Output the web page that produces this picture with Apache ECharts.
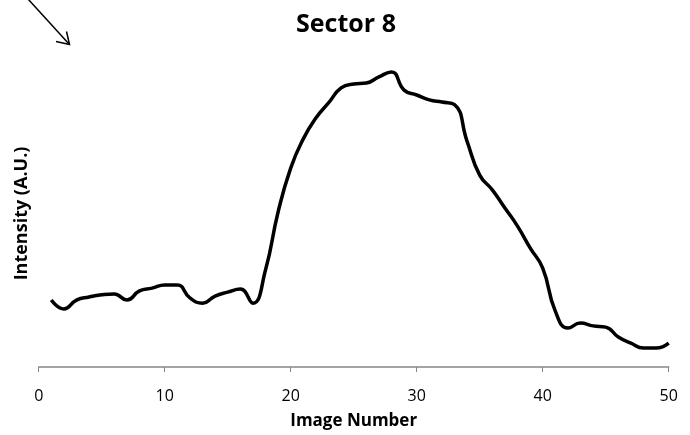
<!DOCTYPE html>
<html>
<head>
<meta charset="utf-8">
<script src="https://cdn.jsdelivr.net/npm/echarts@6/dist/echarts.min.js"></script>
<style>
  html, body { margin: 0; padding: 0; background: #fff; }
  #chart { width: 690px; height: 435px; }
</style>
</head>
<body>
<div id="chart"></div>
<script>
// Image numbers along the sequence
const imageNumbers = [1, 2, 3, 4, 5, 6, 7, 8, 9, 10,
  11, 12, 13, 14, 15, 16, 17, 18, 19, 20,
  21, 22, 23, 24, 25, 26, 27, 28, 29, 30,
  31, 32, 33, 34, 35, 36, 37, 38, 39, 40,
  41, 42, 43, 44, 45, 46, 47, 48, 49, 50];

// Mean intensity in sector 8 (arbitrary units)
const intensity = [21.8, 18.9, 21.8, 22.8, 23.5, 23.8, 21.8, 24.8, 25.7, 26.7,
  26.7, 22.5, 20.8, 23.1, 24.4, 25.4, 20.8, 31.6, 50.5, 64.8,
  74.3, 81.1, 86.0, 90.9, 92.2, 92.5, 94.5, 96.1, 90.2, 88.6,
  87.0, 86.3, 85.5, 73.5, 62.5, 57.7, 51.8, 45.9, 38.8, 32.2,
  18.2, 12.7, 14.3, 13.4, 13.0, 9.8, 7.8, 6.2, 6.2, 7.8];

// X axis tick labels
const xTicks = [0, 10, 20, 30, 40, 50];

const FONT = '"Open Sans", "Liberation Sans", sans-serif';

const chart = echarts.init(document.getElementById('chart'), null, { renderer: 'canvas' });

chart.setOption({
  animation: false,
  backgroundColor: '#ffffff',
  title: {
    text: 'Sector 8',
    left: 341,
    textAlign: 'center',
    top: 7,
    textStyle: { fontFamily: FONT, fontSize: 25, fontWeight: 'bold', color: '#000' }
  },
  grid: {
    left: 38.7, right: 21.3, top: 60, bottom: 68,
    containLabel: false,
    outerBoundsMode: 'none'
  },
  xAxis: {
    type: 'value',
    min: 0,
    max: 50,
    interval: 10,
    name: 'Image Number',
    nameLocation: 'middle',
    nameGap: 46,
    nameTextStyle: { fontFamily: FONT, fontSize: 17, fontWeight: 'bold', color: '#000' },
    axisLine: { show: true, lineStyle: { color: '#868686', width: 1.5 } },
    axisTick: { show: true, inside: false, length: 5, lineStyle: { color: '#868686', width: 1 } },
    axisLabel: {
      margin: 21,
      fontFamily: FONT, fontSize: 16, color: '#000',
      formatter: function (v) { return xTicks.indexOf(v) >= 0 ? String(v) : ''; }
    },
    splitLine: { show: false }
  },
  yAxis: {
    type: 'value',
    min: 0,
    max: 100,
    name: 'Intensity (A.U.)',
    nameLocation: 'middle',
    nameGap: 8,
    nameRotate: 90,
    nameTextStyle: { fontFamily: FONT, fontSize: 18, fontWeight: 'bold', color: '#000' },
    axisLine: { show: false },
    axisTick: { show: false },
    axisLabel: { show: false },
    splitLine: { show: false }
  },
  series: [{
    type: 'line',
    data: imageNumbers.map(function (n, i) { return [n, intensity[i]]; }),
    smooth: 0.5,
    showSymbol: false,
    lineStyle: { color: '#000', width: 3.5 },
    clip: false
  }],
  graphic: [
    {
      type: 'line',
      shape: { x1: 28, y1: -1, x2: 69, y2: 44 },
      style: { stroke: '#000', lineWidth: 1.5 }
    },
    {
      type: 'polyline',
      shape: { points: [[56, 41.5], [69.5, 44.5], [66.5, 31.5]] },
      style: { stroke: '#000', lineWidth: 1.5, fill: null }
    }
  ]
});
</script>
</body>
</html>
